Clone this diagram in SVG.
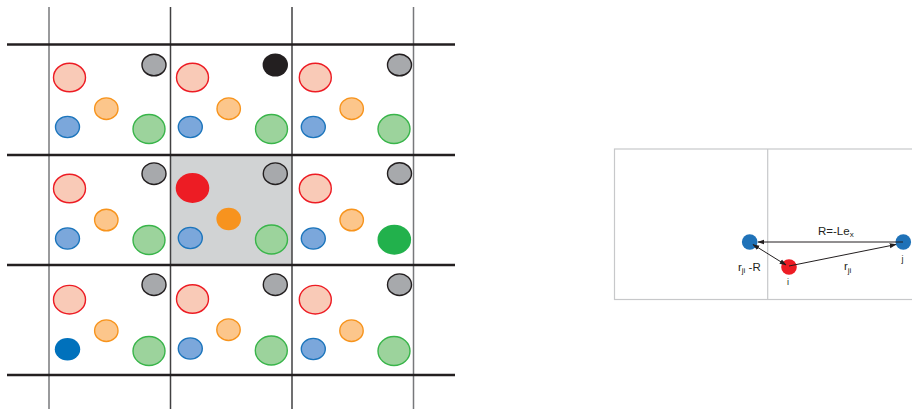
<svg xmlns="http://www.w3.org/2000/svg" width="912" height="409" viewBox="0 0 912 409">
<style>
.hl{stroke:#231f20;stroke-width:2.5;fill:none}
.vo{stroke:#77787b;stroke-width:1.5;fill:none}
.vi{stroke:#414042;stroke-width:1.5;fill:none}
.pr{fill:#f9cab7;stroke:#ed1c24;stroke-width:1.4}
.pg{fill:#a7a9ac;stroke:#231f20;stroke-width:1.4}
.po{fill:#fcc68b;stroke:#f7941d;stroke-width:1.4}
.pb{fill:#7ba7db;stroke:#1c75bc;stroke-width:1.4}
.pn{fill:#9cd39c;stroke:#39b54a;stroke-width:1.4}
.box{fill:none;stroke:#c7c8ca;stroke-width:1.2}
.ar{stroke:#231f20;stroke-width:1;fill:none}
.t{font-family:"Liberation Sans",Arial,sans-serif;fill:#231f20}
</style>
<defs>
<marker id="ah" viewBox="0 0 10 10" refX="9" refY="5" markerWidth="7" markerHeight="7" orient="auto-start-reverse" markerUnits="userSpaceOnUse">
<path d="M0,1.5 L10,5 L0,8.5 z" fill="#231f20"/>
</marker>
</defs>
<rect x="170.5" y="155" width="121.5" height="110" fill="#d1d3d4"/>
<g id="grid">
<line class="vo" x1="49" y1="7" x2="49" y2="409"/>
<line class="vi" x1="170.5" y1="7" x2="170.5" y2="409"/>
<line class="vi" x1="292" y1="7" x2="292" y2="409"/>
<line class="vo" x1="413.5" y1="7" x2="413.5" y2="409"/>
<line class="hl" x1="7" y1="44.5" x2="455" y2="44.5"/>
<line class="hl" x1="7" y1="155" x2="455" y2="155"/>
<line class="hl" x1="7" y1="265" x2="455" y2="265"/>
<line class="hl" x1="7" y1="375" x2="455" y2="375"/>
</g>
<g id="cell-0-0">
<ellipse class="pr" cx="69.5" cy="77.5" rx="16" ry="14.3"/>
<ellipse class="pg" cx="154" cy="65" rx="12" ry="10.8"/>
<ellipse class="po" cx="106.3" cy="108.7" rx="11.7" ry="10.8"/>
<ellipse class="pb" cx="67.5" cy="127" rx="12" ry="10.6"/>
<ellipse class="pn" cx="149" cy="129" rx="16" ry="14.5"/>
</g>
<g id="cell-1-0">
<ellipse class="pr" cx="192.5" cy="77.5" rx="16" ry="14.3"/>
<ellipse cx="275.3" cy="65" rx="12.7" ry="11.5" fill="#231f20"/>
<ellipse class="po" cx="228.7" cy="108.7" rx="11.7" ry="10.8"/>
<ellipse class="pb" cx="190.3" cy="127" rx="12" ry="10.6"/>
<ellipse class="pn" cx="271.5" cy="129" rx="16" ry="14.5"/>
</g>
<g id="cell-2-0">
<ellipse class="pr" cx="315.3" cy="77.5" rx="16" ry="14.3"/>
<ellipse class="pg" cx="399.5" cy="65" rx="12" ry="10.8"/>
<ellipse class="po" cx="351.7" cy="108.7" rx="11.7" ry="10.8"/>
<ellipse class="pb" cx="313.3" cy="127" rx="12" ry="10.6"/>
<ellipse class="pn" cx="394" cy="129" rx="16" ry="14.5"/>
</g>
<g id="cell-0-1">
<ellipse class="pr" cx="69.5" cy="188.5" rx="16" ry="14.3"/>
<ellipse class="pg" cx="154" cy="173.7" rx="12" ry="10.8"/>
<ellipse class="po" cx="106.3" cy="220" rx="11.7" ry="10.8"/>
<ellipse class="pb" cx="67.5" cy="238.5" rx="12" ry="10.6"/>
<ellipse class="pn" cx="149" cy="240" rx="16" ry="14.5"/>
</g>
<g id="cell-1-1">
<ellipse cx="192.5" cy="188" rx="16.8" ry="15" fill="#ed1c24"/>
<ellipse class="pg" cx="275.3" cy="173.7" rx="12" ry="10.8"/>
<ellipse cx="228.7" cy="219" rx="12.3" ry="11.2" fill="#f7931e"/>
<ellipse class="pb" cx="190.3" cy="238" rx="12" ry="10.6"/>
<ellipse class="pn" cx="271.5" cy="239.5" rx="16" ry="14.5"/>
</g>
<g id="cell-2-1">
<ellipse class="pr" cx="315.3" cy="188.5" rx="16" ry="14.3"/>
<ellipse class="pg" cx="399.5" cy="173.5" rx="12" ry="10.8"/>
<ellipse class="po" cx="351.7" cy="220" rx="11.7" ry="10.8"/>
<ellipse class="pb" cx="313.3" cy="238.5" rx="12" ry="10.6"/>
<ellipse cx="394.3" cy="239.7" rx="16.8" ry="15" fill="#22b14c"/>
</g>
<g id="cell-0-2">
<ellipse class="pr" cx="69.5" cy="299.7" rx="16" ry="14.3"/>
<ellipse class="pg" cx="154" cy="284.7" rx="12" ry="10.8"/>
<ellipse class="po" cx="106.3" cy="330.7" rx="11.7" ry="10.8"/>
<ellipse cx="67.5" cy="349.3" rx="12.7" ry="11.3" fill="#0071bc"/>
<ellipse class="pn" cx="149" cy="351" rx="16" ry="14.5"/>
</g>
<g id="cell-1-2">
<ellipse class="pr" cx="192.5" cy="299" rx="16" ry="14.3"/>
<ellipse class="pg" cx="275.3" cy="284.7" rx="12" ry="10.8"/>
<ellipse class="po" cx="228.5" cy="329.7" rx="11.7" ry="10.8"/>
<ellipse class="pb" cx="190.3" cy="348.5" rx="12" ry="10.6"/>
<ellipse class="pn" cx="271.3" cy="350.5" rx="16" ry="14.5"/>
</g>
<g id="cell-2-2">
<ellipse class="pr" cx="315.3" cy="299.7" rx="16" ry="14.3"/>
<ellipse class="pg" cx="399.5" cy="284.7" rx="12" ry="10.8"/>
<ellipse class="po" cx="351.5" cy="330.7" rx="11.7" ry="10.8"/>
<ellipse class="pb" cx="313.3" cy="349" rx="12" ry="10.6"/>
<ellipse class="pn" cx="394" cy="351" rx="16" ry="14.5"/>
</g>
<g id="boxes">
<rect class="box" x="614.5" y="149" width="310" height="150.5"/>
<line class="box" x1="767.7" y1="149" x2="767.7" y2="299.5"/>
</g>
<g id="node-j-image">
<circle cx="749.7" cy="242" r="7.8" fill="#1f72b8"/>
</g>
<g id="node-j">
<circle cx="903.3" cy="242" r="7.8" fill="#1f72b8"/>
<text class="t" x="902.5" y="262" font-size="9" text-anchor="middle">j</text>
</g>
<g id="node-i">
<circle cx="789" cy="267" r="7.8" fill="#ed1c24"/>
<text class="t" x="788" y="285" font-size="9" text-anchor="middle">i</text>
</g>
<g id="connectors">
<line class="ar" x1="903" y1="242" x2="758" y2="242" marker-end="url(#ah)"/>
<line class="ar" x1="789" y1="266" x2="896" y2="244.5" marker-end="url(#ah)"/>
<line class="ar" x1="753" y1="244.5" x2="786" y2="265" marker-start="url(#ah)" marker-end="url(#ah)"/>
</g>
<g id="labels">
<text class="t" x="818" y="235" font-size="11.5">R=-Le<tspan font-size="8" dy="2">x</tspan></text>
<text class="t" x="844" y="270" font-size="11.5">r<tspan font-size="8" dy="2.5">ji</tspan></text>
<text class="t" x="738" y="270.5" font-size="11.5">r<tspan font-size="8" dy="2.5">ji</tspan><tspan dy="-2.5"> -R</tspan></text>
</g>
</svg>
